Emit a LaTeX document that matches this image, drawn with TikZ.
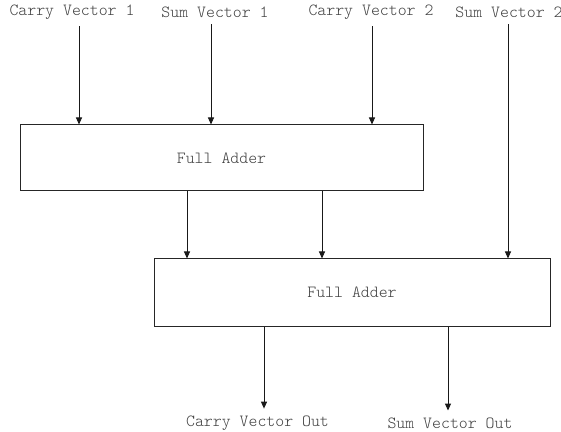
\documentclass[tikz,border=0pt]{standalone}
\usepackage{fontspec}
\setmonofont{Latin Modern Mono Light}
\usetikzlibrary{arrows.meta}

\begin{document}
\begin{tikzpicture}[x=0.5pt,y=-0.5pt,
  adder/.style={draw=black!85, line width=0.5pt, font=\ttfamily\fontsize{8.5}{10}\selectfont, text=black!75},
  vec/.style={font=\ttfamily\fontsize{8.5}{10}\selectfont, text=black!75},
  flow/.style={-{Triangle[length=3.5pt,width=3pt]}, line width=0.5pt, draw=black!90}]

\useasboundingbox (0,0) rectangle (561,432);

% the two adders
\node[adder, minimum width=201.5pt, minimum height=33pt] (fa1) at (221.5,158) {Full Adder};
\node[adder, minimum width=198pt, minimum height=33.5pt] (fa2) at (352,292.5) {Full Adder};

% input vectors
\node[vec] (cv1) at (72,12) {Carry Vector 1};
\node[vec] (sv1) at (215,12) {Sum Vector 1};
\node[vec] (cv2) at (371,12) {Carry Vector 2};
\node[vec] (sv2) at (509,12) {Sum Vector 2};

% output vectors
\node[vec] (cvo) at (257.5,423) {Carry Vector Out};
\node[vec] (svo) at (450,423) {Sum Vector Out};

\draw[flow] ([xshift=3.5pt]cv1.south) -- ([xshift=3.5pt]cv1.south |- fa1.north);
\draw[flow] ([xshift=-2pt]sv1.south) -- ([xshift=-2pt]sv1.south |- fa1.north);
\draw[flow] ([xshift=0.5pt]cv2.south) -- ([xshift=0.5pt]cv2.south |- fa1.north);
\draw[flow] ([xshift=-0.5pt]sv2.south) -- ([xshift=-0.5pt]sv2.south |- fa2.north);

\draw[flow] ([xshift=-17.25pt]fa1.south) -- ([xshift=-17.25pt]fa1.south |- fa2.north);
\draw[flow] ([xshift=50.25pt]fa1.south) -- ([xshift=50.25pt]fa1.south |- fa2.north);

\draw[flow] ([xshift=3.25pt]cvo.north |- fa2.south) -- ([xshift=3.25pt]cvo.north);
\draw[flow] ([xshift=-1pt]svo.north |- fa2.south) -- ([xshift=-1pt]svo.north);

\end{tikzpicture}
\end{document}
